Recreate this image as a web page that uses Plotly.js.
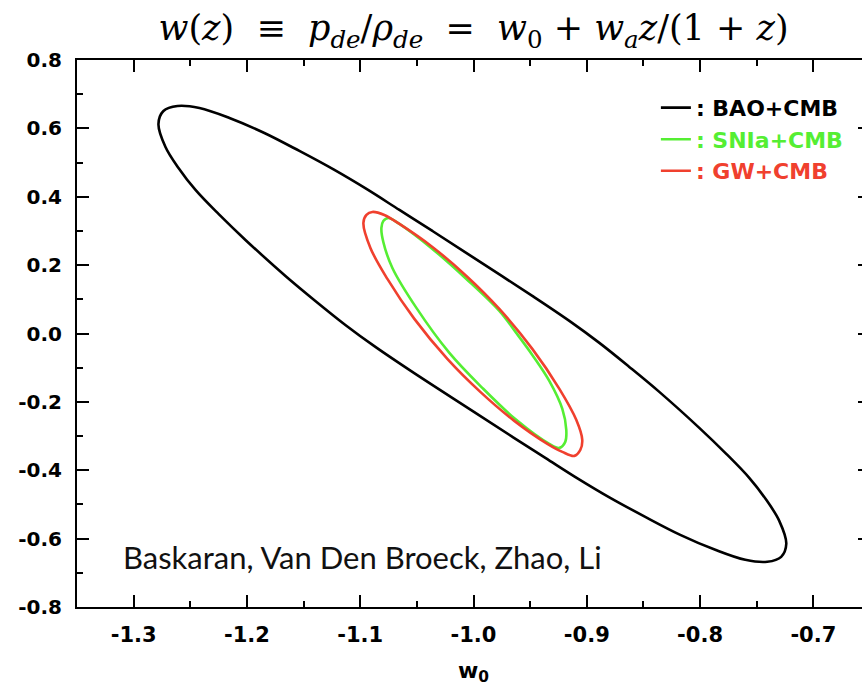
<!DOCTYPE html>
<html>
<head>
<meta charset="utf-8">
<script src="https://cdn.plot.ly/plotly-3.0.1.min.js"></script>
<style>
html,body{margin:0;padding:0;overflow:hidden;background:#fff;}
#chart{width:900px;height:699px;}
</style>
</head>
<body>
<div id="chart"></div>
<script>
// ---- data (contour outlines, w0 vs wa) ----
const seriesNames = ["BAO+CMB", "SNIa+CMB", "GW+CMB"];
const seriesColors = ["#000000", "#55ee33", "#f0402e"];

const baoW0 = [-1.2781,-1.2737,-1.2613,-1.2419,-1.2154,-1.1846,-1.1537,-1.1228,-1.0945,-1.0654,-1.0363,-1.001,-0.9481,-0.9154,-0.8889,-0.8625,-0.836,-0.8007,-0.7769,-0.7566,-0.7416,-0.7301,-0.7239,
               -0.7284,-0.7407,-0.7601,-0.7866,-0.8175,-0.8484,-0.8793,-0.9075,-0.9366,-0.9657,-1.001,-1.054,-1.0866,-1.1131,-1.1396,-1.166,-1.2013,-1.2251,-1.2454,-1.2604,-1.2719,-1.2781];
const baoWa = [0.6129,0.6509,0.6655,0.6596,0.6304,0.5865,0.5339,0.4784,0.4228,0.3614,0.3,0.224,0.1099,0.0368,-0.0275,-0.0977,-0.1708,-0.276,-0.352,-0.4222,-0.4865,-0.548,-0.6152,
               -0.6532,-0.6678,-0.662,-0.6327,-0.5889,-0.5363,-0.4807,-0.4251,-0.3637,-0.3023,-0.2263,-0.1123,-0.0392,0.0251,0.0953,0.1684,0.2737,0.3497,0.4199,0.4842,0.5456,0.6129];

const snW0 = [-1.0813,-1.0796,-1.0751,-1.0654,-1.0363,-1.0063,-0.9772,-0.9623,-0.9481,-0.9331,-0.9216,-0.9181,-0.919,-0.9242,-0.9331,-0.9623,-0.9922,-1.0213,-1.0504,-1.0716,-1.0796,-1.0813];
const snWa = [0.3088,0.3292,0.338,0.3205,0.2474,0.1596,0.0661,0.0018,-0.0626,-0.1386,-0.2205,-0.2819,-0.317,-0.3345,-0.3228,-0.2526,-0.1591,-0.0567,0.0749,0.1918,0.2678,0.3088];

const gwW0 = [-1.0972,-1.0945,-1.0893,-1.0787,-1.0654,-1.0363,-1.0063,-0.9772,-0.9481,-0.9242,-0.9093,-0.904,-0.9057,-0.911,-0.9216,-0.9348,-0.964,-0.994,-1.0231,-1.0522,-1.076,-1.091,-1.0972];
const gwWa = [0.3234,0.3468,0.3556,0.3468,0.3205,0.2532,0.1684,0.0719,-0.045,-0.162,-0.2526,-0.3111,-0.3404,-0.3579,-0.3462,-0.3228,-0.2556,-0.1708,-0.0743,0.0427,0.1596,0.2503,0.3234];

const xTickVals = [-1.3,-1.2,-1.1,-1.0,-0.9,-0.8,-0.7];
const xTickText = ["-1.3","-1.2","-1.1","-1.0","-0.9","-0.8","-0.7"];
const yTickVals = [-0.8,-0.6,-0.4,-0.2,0.0,0.2,0.4,0.6,0.8];
const yTickText = ["-0.8","-0.6","-0.4","-0.2","0.0","0.2","0.4","0.6","0.8"];

const xs = [baoW0, snW0, gwW0];
const ys = [baoWa, snWa, gwWa];

const traces = [];
for (let i = 0; i < 3; i++) {
  traces.push({
    x: xs[i], y: ys[i],
    type: "scatter", mode: "lines",
    line: {color: seriesColors[i], width: 2.6, shape: "spline", smoothing: 1},
    name: '<span style="color:' + seriesColors[i] + '">: ' + seriesNames[i] + '</span>',
    hoverinfo: "skip"
  });
}

const boldSans = "DejaVu Sans, Liberation Sans, Arial, sans-serif";
const axisCommon = {
  showgrid: false, zeroline: false,
  showline: true, linecolor: "#000", linewidth: 2,
  mirror: "ticks", ticks: "inside", ticklen: 12, tickwidth: 2, tickcolor: "#000",
  tickmode: "array"
};

const sp = "&nbsp;";
const sp2 = "&nbsp;&nbsp;";
const layout = {
  width: 900, height: 699,
  margin: {l: 77, r: 30, t: 60, b: 92},
  paper_bgcolor: "#fff", plot_bgcolor: "#fff",
  title: {
    text: "<i>w</i>(<i>z</i>)" + sp2 + "≡" + sp2 + "<i>p</i><sub><i>de</i></sub>/<i>ρ</i><sub><i>de</i></sub>" + sp2 + "=" + sp2 +
          "<i>w</i><sub>0</sub>" + sp + "+" + sp + "<i>w</i><sub><i>a</i></sub><i>z</i>/(1" + sp + "+" + sp + "<i>z</i>)",
    font: {family: "DejaVu Serif, Liberation Serif, serif", size: 35, color: "#000"},
    x: 0.5, xref: "paper", xanchor: "center",
    y: 0.96, yref: "container", yanchor: "middle"
  },
  xaxis: Object.assign({}, axisCommon, {
    range: [-1.35, -0.65],
    tickvals: xTickVals, ticktext: xTickText,
    tickfont: {family: boldSans, size: 21, color: "#000", weight: "bold"},
    ticklabelstandoff: 8,
    minor: {ticks: "inside", ticklen: 6, tickwidth: 2, tickcolor: "#000", dtick: 0.05, tick0: -1.35, showgrid: false},
    title: {text: "<b>w<sub>0</sub></b>", font: {family: boldSans, size: 22, color: "#000"}, standoff: 16}
  }),
  yaxis: Object.assign({}, axisCommon, {
    range: [-0.8, 0.8],
    tickvals: yTickVals, ticktext: yTickText,
    tickfont: {family: boldSans, size: 20, color: "#000", weight: "bold"},
    ticklabelstandoff: 9,
    minor: {ticks: "inside", ticklen: 6, tickwidth: 2, tickcolor: "#000", dtick: 0.1, tick0: -0.8, showgrid: false}
  }),
  showlegend: true,
  legend: {
    x: 0.73, xref: "paper", xanchor: "left",
    y: 0.951, yref: "paper", yanchor: "top",
    bgcolor: "rgba(0,0,0,0)", borderwidth: 0,
    traceorder: "normal",
    font: {family: boldSans, size: 22, color: "#000", weight: "bold"}
  },
  annotations: [{
    text: "Baskaran, Van Den Broeck, Zhao, Li",
    xref: "paper", yref: "paper", x: 0.056, y: 0.091,
    xanchor: "left", yanchor: "middle", showarrow: false,
    font: {family: "Lato, Open Sans, sans-serif", size: 31, color: "#111"}
  }]
};

Plotly.newPlot("chart", traces, layout, {displayModeBar: false, staticPlot: true});
</script>
</body>
</html>
